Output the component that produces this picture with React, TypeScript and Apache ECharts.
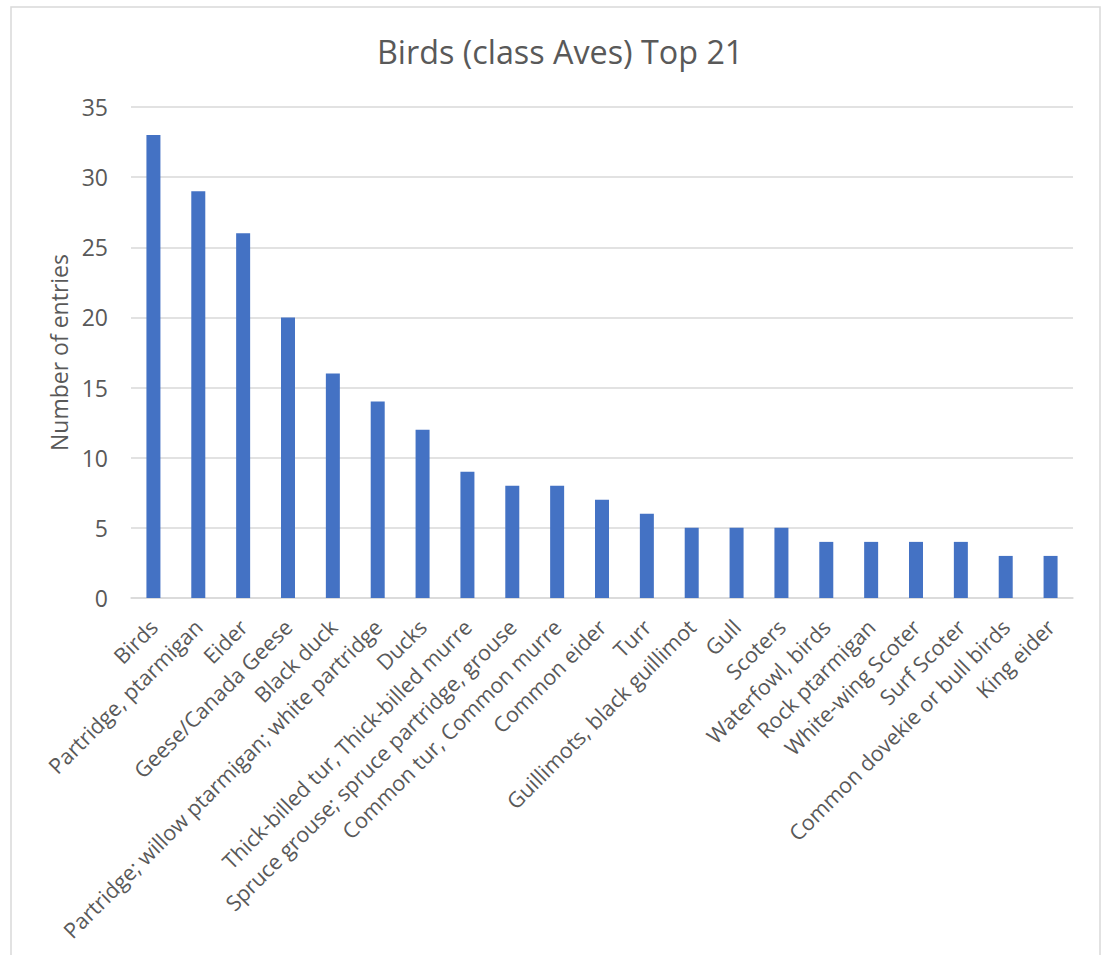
import React, { useEffect, useRef } from "react";
import * as echarts from "echarts";

const categories = [
  "Birds",
  "Partridge, ptarmigan",
  "Eider",
  "Geese/Canada Geese",
  "Black duck",
  "Partridge; willow ptarmigan; white partridge",
  "Ducks",
  "Thick-billed tur, Thick-billed murre",
  "Spruce grouse; spruce partridge, grouse",
  "Common tur, Common murre",
  "Common eider",
  "Turr",
  "Guillimots, black guillimot",
  "Gull",
  "Scoters",
  "Waterfowl, birds",
  "Rock ptarmigan",
  "White-wing Scoter",
  "Surf Scoter",
  "Common dovekie or bull birds",
  "King eider",
];

const entries = [33, 29, 26, 20, 16, 14, 12, 9, 8, 8, 7, 6, 5, 5, 5, 4, 4, 4, 4, 3, 3];

const titleText = "Birds (class Aves) Top 21";
const yAxisName = "Number of entries";

const FONT = "'Open Sans', sans-serif";
const TEXT = "#595959";

export default function App() {
  const ref = useRef<HTMLDivElement>(null);
  useEffect(() => {
    if (!ref.current) return;
    const chart = echarts.init(ref.current, undefined, { renderer: "svg" });
    chart.setOption({
      animation: false,
      backgroundColor: "#ffffff",
      textStyle: { fontFamily: FONT },
      title: {
        text: titleText,
        left: 372,
        top: 30,
        textStyle: { fontFamily: FONT, fontSize: 32.3, fontWeight: "normal", color: TEXT },
      },
      graphic: [
        {
          type: "rect",
          shape: { x: 11, y: 7, width: 1089, height: 960 },
          style: { fill: "none", stroke: "#d9d9d9", lineWidth: 1.5 },
          silent: true,
        },
      ],
      grid: { left: 131, right: 29, top: 107, bottom: 357, containLabel: false },
      xAxis: {
        type: "category",
        data: categories,
        axisLine: { show: true, lineStyle: { color: "#d9d9d9", width: 1.5 } },
        axisTick: { show: false },
        axisLabel: {
          interval: 0,
          rotate: 45,
          margin: 25,
          color: TEXT,
          fontSize: 21.5,
          fontFamily: FONT,
        },
      },
      yAxis: {
        type: "value",
        min: 0,
        max: 35,
        interval: 5,
        name: yAxisName,
        nameLocation: "middle",
        nameRotate: 90,
        nameGap: 58,
        nameTextStyle: { color: TEXT, fontSize: 23, fontFamily: FONT },
        axisLine: { show: false },
        axisTick: { show: false },
        axisLabel: { color: TEXT, fontSize: 23, fontFamily: FONT, margin: 23 },
        splitLine: { lineStyle: { color: "#d9d9d9", width: 1.5 } },
      },
      series: [
        {
          type: "bar",
          data: entries,
          barWidth: 14,
          itemStyle: { color: "#4472C4" },
        },
      ],
    });
    return () => chart.dispose();
  }, []);
  return (
    <div
      ref={ref}
      style={{ position: "fixed", left: 0, top: 0, width: 1102, height: 955 }}
    />
  );
}
